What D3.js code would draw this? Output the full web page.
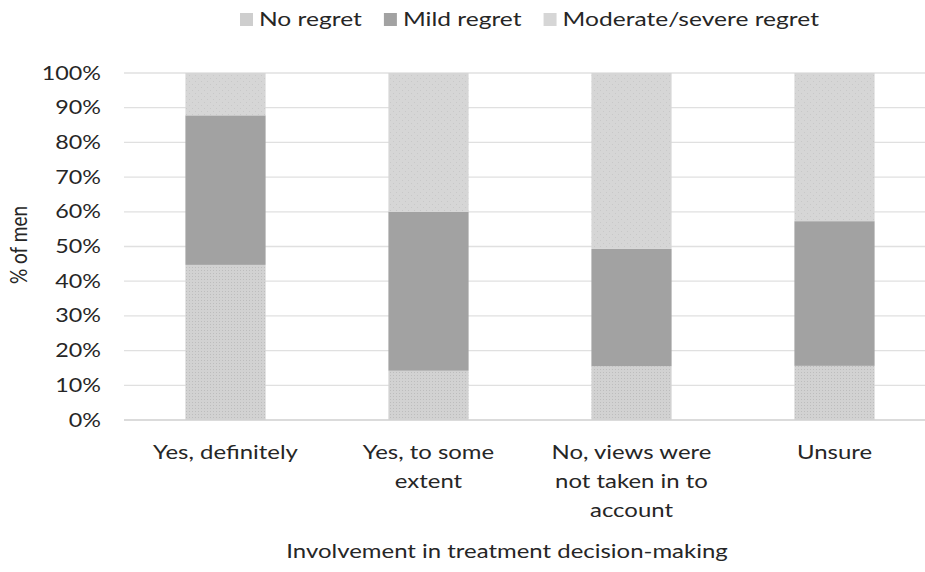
<!DOCTYPE html>
<html>
<head>
<meta charset="utf-8">
<script src="https://cdn.jsdelivr.net/npm/d3@7.9.0/dist/d3.min.js"></script>
<style>
  body { margin: 0; background: #fff; }
  text { font-family: Lato, "Open Sans", sans-serif; fill: #262626; }
</style>
</head>
<body>
<svg id="chart" width="925" height="572"></svg>
<script>
// data
const categories = [
  ["Yes, definitely"],
  ["Yes, to some", "extent"],
  ["No, views were", "not taken in to", "account"],
  ["Unsure"]
];
const seriesNames = ["No regret", "Mild regret", "Moderate/severe regret"];
const noRegret = [44.7, 14.2, 15.5, 15.6];
const mildRegret = [43.1, 45.8, 33.8, 41.7];
const severeRegret = [12.2, 40.0, 50.7, 42.7];
const yTicks = [0, 10, 20, 30, 40, 50, 60, 70, 80, 90, 100];

const svg = d3.select('#chart');
const margin = { left: 124, top: 73, bottom: 420 };
const plotRight = 936;
const SX = 1.26; // the source picture is stretched sideways

// text with horizontal stretch around its anchor
function label(g, x, y, str, size, anchor) {
  return g.append('text')
    .attr('transform', `translate(${x},${y}) scale(${SX},1)`)
    .attr('text-anchor', anchor || 'start')
    .attr('font-size', size)
    .text(str);
}

// patterns for the light fills
const defs = svg.append('defs');
let p1 = defs.append('pattern').attr('id', 'dots').attr('width', 3).attr('height', 3)
  .attr('patternUnits', 'userSpaceOnUse');
p1.append('rect').attr('width', 3).attr('height', 3).attr('fill', '#d2d2d2');
p1.append('rect').attr('width', 1).attr('height', 1).attr('fill', '#bdbdbd');

let p2 = defs.append('pattern').attr('id', 'diag').attr('width', 6).attr('height', 6)
  .attr('patternUnits', 'userSpaceOnUse');
p2.append('rect').attr('width', 6).attr('height', 6).attr('fill', '#d6d6d6');
p2.append('rect').attr('x', 0).attr('y', 0).attr('width', 1).attr('height', 1).attr('fill', '#c8c8c8');
p2.append('rect').attr('x', 3).attr('y', 3).attr('width', 1).attr('height', 1).attr('fill', '#c8c8c8');

const fills = ['url(#dots)', '#a2a2a2', 'url(#diag)'];
const swatch = ['#cecece', '#a2a2a2', '#d6d6d6'];

const x = d3.scaleBand().domain(d3.range(categories.length))
  .range([margin.left, plotRight]).paddingInner(0.605).paddingOuter(0.3025);
const y = d3.scaleLinear().domain([0, 100]).range([margin.bottom, margin.top]);

// gridlines
svg.append('g').selectAll('line').data(yTicks).join('line')
  .attr('x1', margin.left).attr('x2', plotRight)
  .attr('y1', d => y(d)).attr('y2', d => y(d))
  .attr('stroke', d => d === 0 ? '#cfcfcf' : '#e0e0e0').attr('stroke-width', 1.3);

// y tick labels
const yl = svg.append('g');
yTicks.forEach(d => {
  label(yl, 101, y(d) + 6.5, d + '%', 18.5, 'end');
});

// stacked bars
const rows = categories.map((c, i) => ({ i, v: [noRegret[i], mildRegret[i], severeRegret[i]] }));
rows.forEach(r => {
  let base = 0;
  r.v.forEach((v, k) => {
    svg.append('rect')
      .attr('x', x(r.i)).attr('width', x.bandwidth())
      .attr('y', y(base + v)).attr('height', y(base) - y(base + v))
      .attr('fill', fills[k]);
    base += v;
  });
});

// x category labels
const xl = svg.append('g');
categories.forEach((lines, i) => {
  lines.forEach((t, j) => {
    label(xl, x(i) + x.bandwidth() / 2, 459 + j * 29, t, 19, 'middle');
  });
});

// axis titles
label(svg, 507, 558, 'Involvement in treatment decision-making', 19, 'middle');
svg.append('text')
  .attr('transform', `translate(27,245) scale(${SX},1) rotate(-90)`)
  .attr('text-anchor', 'middle').attr('font-size', 19).text('% of men');

// legend
const lg = svg.append('g');
let lx = 240;
seriesNames.forEach((name, k) => {
  lg.append('rect').attr('x', lx).attr('y', 13).attr('width', 13).attr('height', 13)
    .attr('fill', swatch[k]);
  const t = label(lg, lx + 19, 26, name, 19.5, 'start');
  lx += 19 + t.node().getComputedTextLength() * SX + 22;
});
</script>
</body>
</html>
